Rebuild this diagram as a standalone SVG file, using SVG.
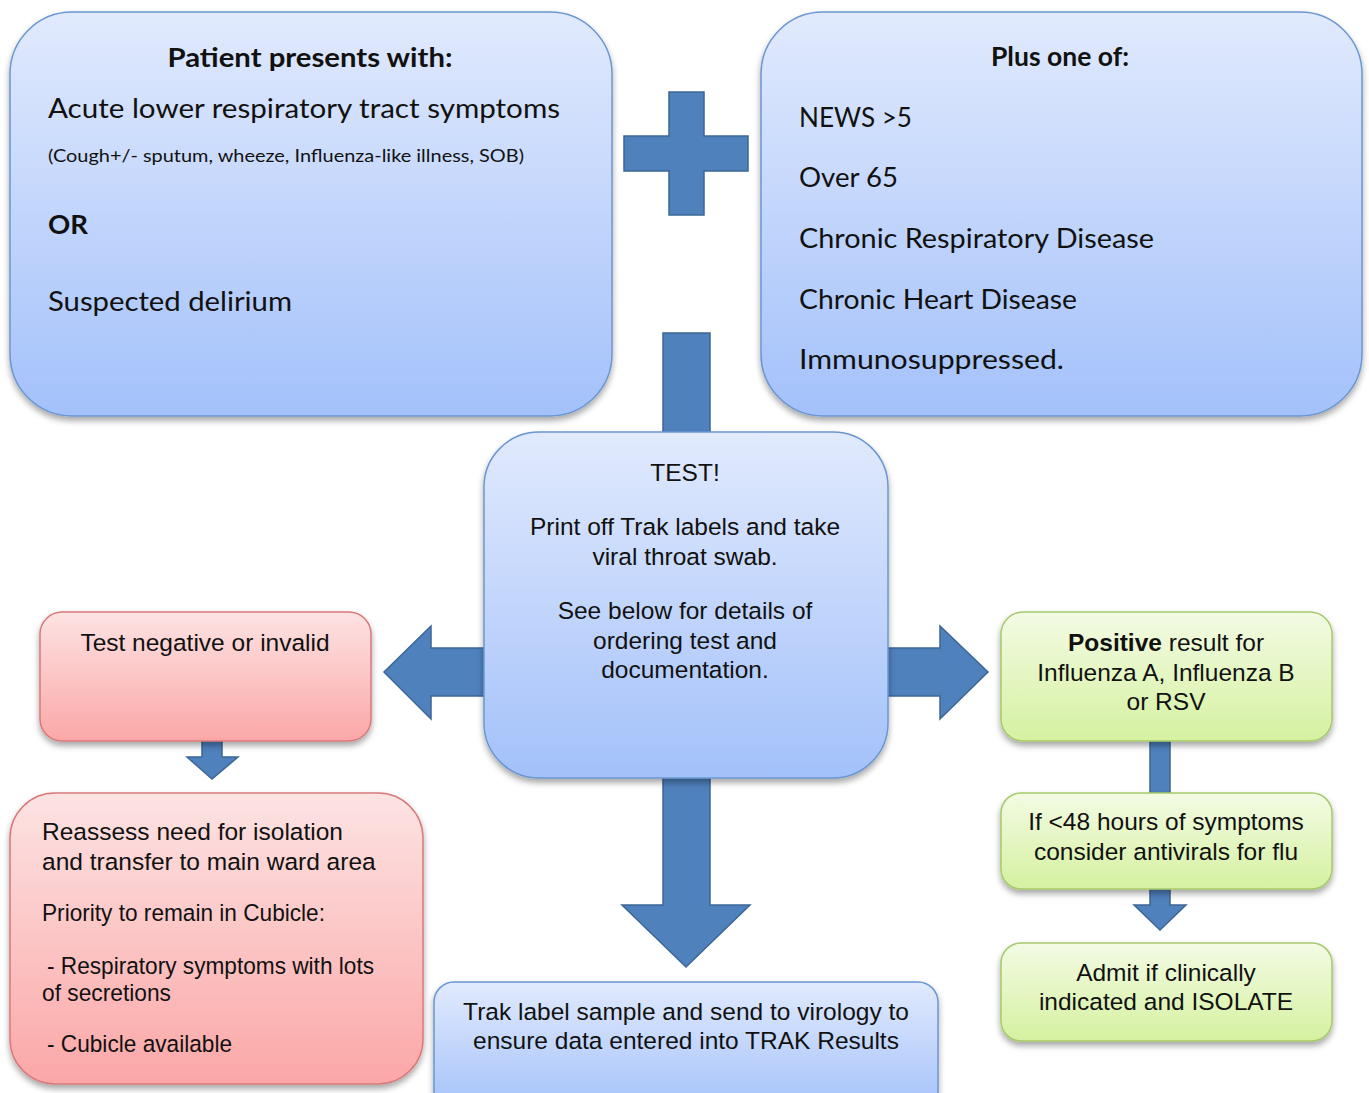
<svg xmlns="http://www.w3.org/2000/svg" width="1369" height="1093" viewBox="0 0 1369 1093">
<defs>
<linearGradient id="gBlue" x1="0" y1="0" x2="0" y2="1"><stop offset="0" stop-color="#e1eafd"/><stop offset="1" stop-color="#a3c1fa"/></linearGradient>
<linearGradient id="gRed" x1="0" y1="0" x2="0" y2="1"><stop offset="0" stop-color="#fde3e3"/><stop offset="1" stop-color="#fba7a7"/></linearGradient>
<linearGradient id="gGreen" x1="0" y1="0" x2="0" y2="1"><stop offset="0" stop-color="#f3fbe4"/><stop offset="1" stop-color="#d5f1a0"/></linearGradient>
<filter id="sh" x="-10%" y="-10%" width="120%" height="130%"><feDropShadow dx="0" dy="4" stdDeviation="3" flood-color="#000" flood-opacity="0.35"/></filter>
</defs>
<style>
.blue{fill:url(#gBlue);stroke:#6b96d2;stroke-width:1.5;filter:url(#sh)}
.red{fill:url(#gRed);stroke:#d9797a;stroke-width:1.5;filter:url(#sh)}
.green{fill:url(#gGreen);stroke:#a6c96a;stroke-width:1.5;filter:url(#sh)}
.arr{fill:#4f81bd;stroke:#3c6696;stroke-width:1.5}
.h{font-family:Lato,"Open Sans",sans-serif;fill:#111}
.a{font-family:"Liberation Sans",Arial,sans-serif;font-size:24.5px;fill:#111}
.c{text-anchor:middle}
.b{font-weight:bold}
</style>
<rect width="1369" height="1093" fill="#ffffff"/>
<g id="connectors">
<path class="arr" d="M669,92 H704 V136 H748 V171 H704 V215 H669 V171 H624 V136 H669 Z"/>
<rect class="arr" x="663" y="333" width="47" height="110"/>
<path class="arr" d="M495,648 H431 V626 L384,672 L431,719 V696 H495 Z"/>
<path class="arr" d="M878,648 H940 V626 L988,672 L940,719 V696 H878 Z"/>
<path class="arr" d="M663,770 H710 V905 H750 L686,967 L622,905 H663 Z"/>
<path class="arr" d="M202,738 H222 V757 H238 L212,779 L187,757 H202 Z"/>
<rect class="arr" x="1150" y="738" width="20" height="58"/>
<path class="arr" d="M1150,886 H1170 V905 H1186 L1160,930 L1134,905 H1150 Z"/>
</g>
<g id="node-presents">
<rect class="blue" x="10" y="12" width="602" height="404" rx="62"/>
<text class="h b c" x="310" y="67" font-size="26" textLength="285" lengthAdjust="spacingAndGlyphs">Patient presents with:</text>
<text class="h" x="48" y="118" font-size="27" textLength="512" lengthAdjust="spacingAndGlyphs">Acute lower respiratory tract symptoms</text>
<text class="h" x="48" y="162" font-size="18" textLength="476" lengthAdjust="spacingAndGlyphs">(Cough+/- sputum, wheeze,  Influenza-like illness, SOB)</text>
<text class="h b" x="48" y="234" font-size="27" textLength="40" lengthAdjust="spacingAndGlyphs">OR</text>
<text class="h" x="48" y="311" font-size="27" textLength="244" lengthAdjust="spacingAndGlyphs">Suspected delirium</text>
</g>
<g id="node-plus-one-of">
<rect class="blue" x="761" y="12" width="601" height="404" rx="62"/>
<text class="h b c" x="1060" y="66" font-size="26" textLength="138" lengthAdjust="spacingAndGlyphs">Plus one of:</text>
<text class="h" x="799" y="127" font-size="27" textLength="113" lengthAdjust="spacingAndGlyphs">NEWS &gt;5</text>
<text class="h" x="799" y="187" font-size="27" textLength="99" lengthAdjust="spacingAndGlyphs">Over 65</text>
<text class="h" x="799" y="248" font-size="27" textLength="355" lengthAdjust="spacingAndGlyphs">Chronic Respiratory Disease</text>
<text class="h" x="799" y="309" font-size="27" textLength="278" lengthAdjust="spacingAndGlyphs">Chronic Heart Disease</text>
<text class="h" x="799" y="369" font-size="27" textLength="265" lengthAdjust="spacingAndGlyphs">Immunosuppressed.</text>
</g>
<g id="node-test">
<rect class="blue" x="484" y="432" width="404" height="346" rx="55"/>
<text class="a c" x="685" y="481">TEST!</text>
<text class="a c" x="685" y="535">Print off Trak labels and take</text>
<text class="a c" x="685" y="565">viral throat swab.</text>
<text class="a c" x="685" y="619">See below for details of</text>
<text class="a c" x="685" y="649">ordering test and</text>
<text class="a c" x="685" y="678">documentation.</text>
</g>
<g id="node-negative">
<rect class="red" x="40" y="612" width="331" height="129" rx="22"/>
<text class="a c" x="205" y="651">Test negative or invalid</text>
</g>
<g id="node-reassess">
<rect class="red" x="10" y="793" width="413" height="291" rx="45"/>
<text class="a" x="42" y="840">Reassess need for isolation</text>
<text class="a" x="42" y="870">and transfer to main ward area</text>
<text class="a" x="42" y="921" textLength="283" lengthAdjust="spacingAndGlyphs">Priority to remain in Cubicle:</text>
<text class="a" x="47" y="974" textLength="327" lengthAdjust="spacingAndGlyphs">- Respiratory symptoms with lots</text>
<text class="a" x="42" y="1001" textLength="129" lengthAdjust="spacingAndGlyphs">of secretions</text>
<text class="a" x="47" y="1052" textLength="185" lengthAdjust="spacingAndGlyphs">- Cubicle available</text>
</g>
<g id="node-positive">
<rect class="green" x="1001" y="612" width="331" height="129" rx="22"/>
<text class="a c" x="1166" y="651"><tspan class="b">Positive</tspan> result for</text>
<text class="a c" x="1166" y="681">Influenza A, Influenza B</text>
<text class="a c" x="1166" y="710">or RSV</text>
</g>
<g id="node-antivirals">
<rect class="green" x="1001" y="793" width="331" height="96" rx="20"/>
<text class="a c" x="1166" y="830">If &lt;48 hours of symptoms</text>
<text class="a c" x="1166" y="860">consider antivirals for flu</text>
</g>
<g id="node-admit">
<rect class="green" x="1001" y="943" width="331" height="98" rx="20"/>
<text class="a c" x="1166" y="981">Admit if clinically</text>
<text class="a c" x="1166" y="1010">indicated and ISOLATE</text>
</g>
<g id="node-trak">
<rect class="blue" x="434" y="982" width="504" height="130" rx="20"/>
<text class="a c" x="686" y="1020">Trak label sample and send to virology to</text>
<text class="a c" x="686" y="1049">ensure data entered into TRAK Results</text>
</g>
</svg>
